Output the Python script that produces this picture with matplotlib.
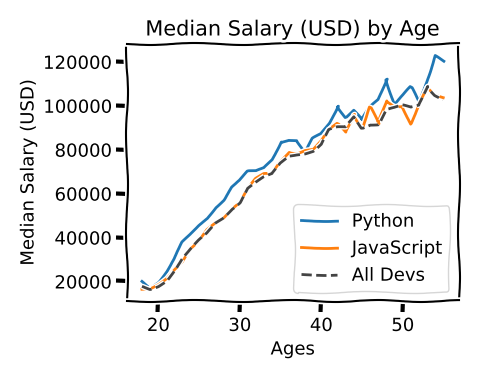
import matplotlib
matplotlib.use("Agg")
import matplotlib.pyplot as plt

ages_x = [18, 19, 20, 21, 22, 23, 24, 25, 26, 27, 28, 29, 30, 31, 32, 33, 34, 35, 36,
          37, 38, 39, 40, 41, 42, 43, 44, 45, 46, 47, 48, 49, 50, 51, 52, 53, 54, 55]

py_dev_y = [20046, 17100, 20000, 24744, 30500, 37732, 41247, 45372, 48876, 53850, 57287,
            63016, 65998, 70003, 70000, 71496, 75370, 83640, 84666, 84392, 78254, 85000,
            87038, 91991, 100000, 94796, 97962, 93302, 99240, 102736, 112285, 100771,
            104708, 108423, 101407, 112542, 122870, 120000]

js_dev_y = [16446, 16791, 18942, 21780, 25704, 29000, 34372, 37810, 43515, 46823, 49293,
            53437, 56373, 62375, 66674, 68745, 68746, 74583, 79000, 78508, 79996, 80403,
            83820, 88833, 91660, 87892, 96243, 90000, 99313, 91660, 102264, 100000,
            100000, 91660, 99240, 108000, 105000, 104000]

dev_y = [17784, 16500, 18012, 20628, 25206, 30252, 34368, 38496, 42000, 46752, 49320,
         53200, 56000, 62316, 64928, 67317, 68748, 73752, 77232, 78000, 78508, 79536,
         82488, 88935, 90000, 90056, 95000, 90000, 91633, 91660, 98150, 98964, 100000,
         98988, 100000, 108923, 105000, 103117]

plt.xkcd()
plt.rcParams["font.family"] = ["DejaVu Sans"]
plt.rcParams["font.size"] = 13

fig = plt.figure(figsize=(4.78, 3.78), dpi=100)
plt.plot(ages_x, py_dev_y, label="Python")
plt.plot(ages_x, js_dev_y, label="JavaScript")
plt.plot(ages_x, dev_y, color="#444444", linestyle="--", label="All Devs")

plt.xlabel("Ages")
plt.ylabel("Median Salary (USD)")
plt.title("Median Salary (USD) by Age", fontsize=15)
plt.legend(loc="lower right")
plt.tight_layout()
plt.savefig("out.png", dpi=100)
